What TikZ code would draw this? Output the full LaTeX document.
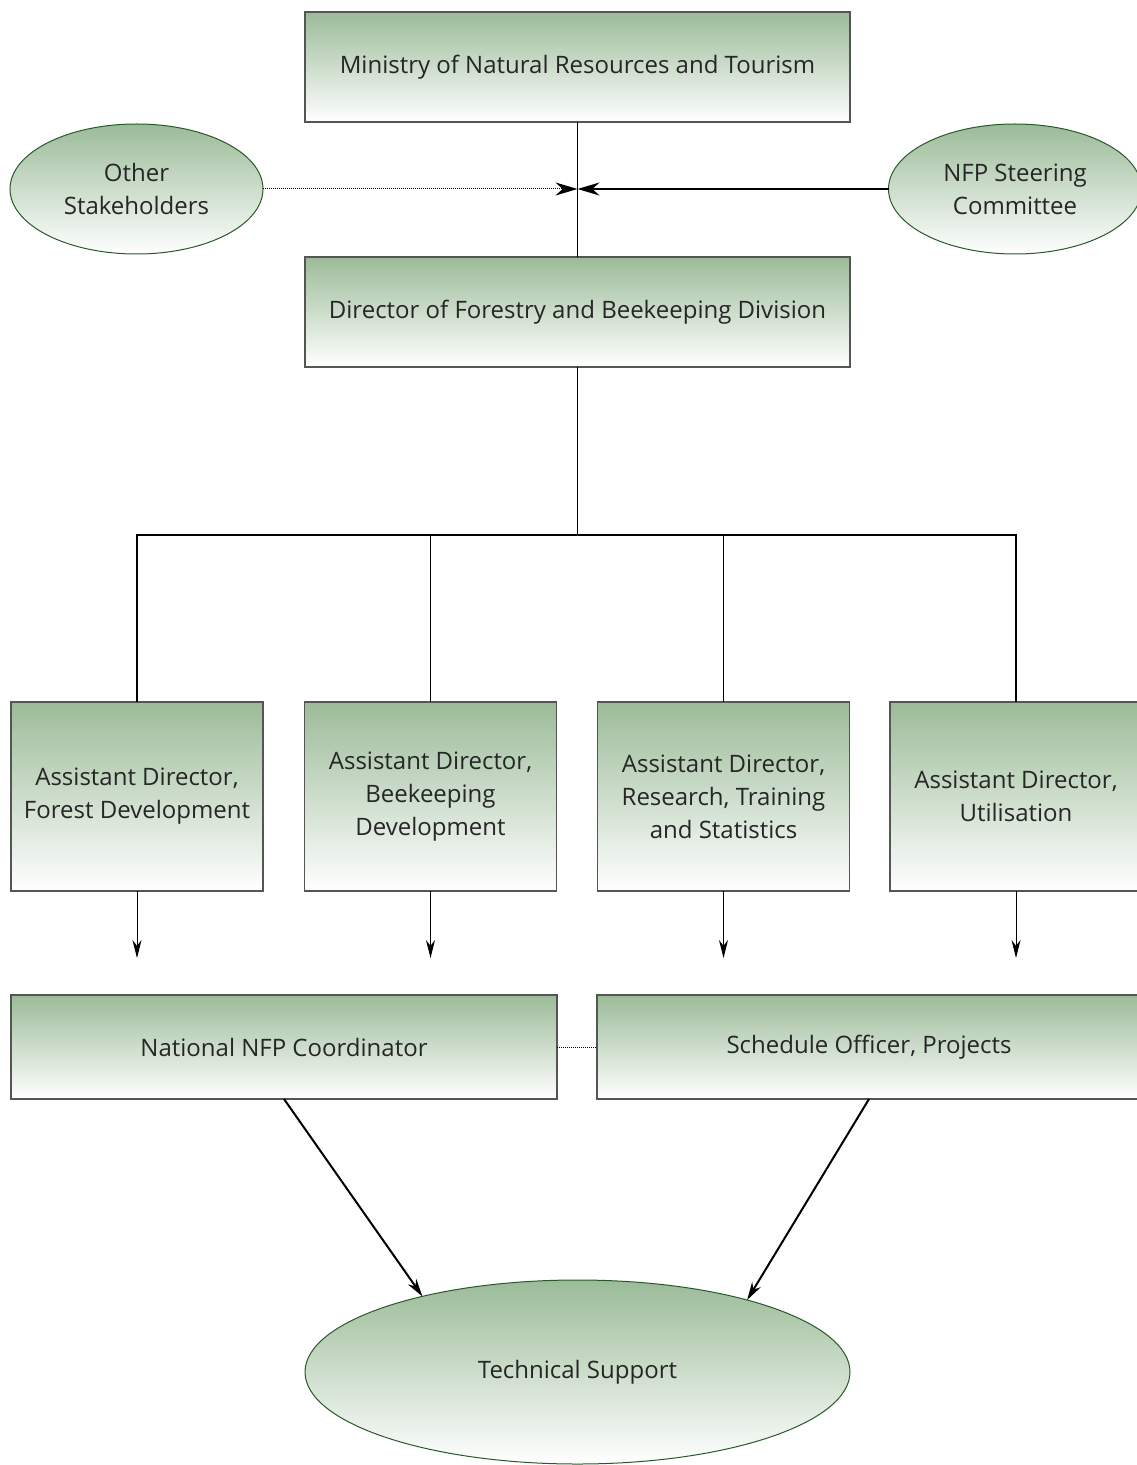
\documentclass[tikz,border=0pt]{standalone}
\usepackage{fontspec}
\setmainfont{Open Sans}
\usetikzlibrary{arrows.meta,shapes.geometric,positioning}
\definecolor{leafgreen}{RGB}{155,187,152}
\definecolor{rimgreen}{RGB}{40,90,40}
\definecolor{rimgray}{RGB}{85,85,85}

\begin{document}
\begin{tikzpicture}[x=0.5pt,y=-0.5pt]
\tikzstyle{every node}+=[inner sep=0pt,outer sep=0pt,align=center,text=black!85,font=\fontsize{12}{16.5}\selectfont]
\tikzstyle{orgbox}=[rectangle,draw=rimgray,line width=0.6pt,top color=leafgreen,bottom color=white]
\tikzstyle{orgoval}=[ellipse,draw=rimgreen,line width=0.5pt,top color=leafgreen,bottom color=white]
\tikzstyle{feed}=[line width=0.5pt,-{Stealth[length=9pt,width=4.5pt]}]
\tikzstyle{finedots}=[dash pattern=on 0.5pt off 0.5pt]
\useasboundingbox (0,0) rectangle (1136,1465);
% top level
\node[orgbox,minimum width=272.5pt,minimum height=55pt] (ministry) at (577.5,67) {Ministry of Natural Resources and Tourism};
\node[orgoval,minimum width=126.5pt,minimum height=65pt] (others) at (136.5,189) {Other\\Stakeholders};
\node[orgoval,minimum width=126.5pt,minimum height=65pt] (steering) at (1015,189) {NFP Steering\\Committee};
\node[orgbox,minimum width=272.5pt,minimum height=55pt] (director) at (577.5,312) {Director of Forestry and Beekeeping Division};
\coordinate (join) at (577.5,189);
\coordinate (hub) at (577.5,535);
\coordinate (tipline) at (0,958);
% assistant directors
\node[orgbox,minimum width=126pt,minimum height=94.5pt] (forest) at (137,796.5) {Assistant Director,\\Forest Development};
\node[orgbox,minimum width=126pt,minimum height=94.5pt] (bees) at (430.5,796.5) {Assistant Director,\\Beekeeping\\Development};
\node[orgbox,minimum width=126pt,minimum height=94.5pt] (research) at (723.5,796.5) {Assistant Director,\\Research, Training\\and Statistics};
\node[orgbox,minimum width=126pt,minimum height=94.5pt] (util) at (1016,796.5) {Assistant Director,\\Utilisation};
% coordination
\node[orgbox,minimum width=273pt,minimum height=52pt] (coord) at (284,1047) {National NFP Coordinator};
\node[orgbox,minimum width=272pt,minimum height=52pt] (sched) at (869,1047) {Schedule Officer, Projects};
\node[orgoval,minimum width=272.5pt,minimum height=92pt] (tech) at (577.5,1372) {Technical Support};
% connectors
\draw[line width=0.5pt] (ministry.south) -- (director.north);
\draw[line width=0.5pt,finedots,-{Stealth[length=11pt,width=6.5pt]}] (others.east) -- (join);
\draw[line width=1pt,-{Stealth[length=11pt,width=6.5pt]}] (steering.west) -- (join);
\draw[line width=0.75pt] (director.south) -- (hub);
\draw[line width=0.75pt] (forest.north) |- (hub) -| (util.north);
\draw[line width=0.75pt] (bees.north) -- (bees.north |- hub);
\draw[line width=0.75pt] (research.north) -- (research.north |- hub);
\foreach \ad in {forest,bees,research,util}
  \draw[feed] (\ad.south) -- (\ad.south |- tipline);
\draw[line width=0.5pt,finedots] (coord.east) -- (sched.west);
\draw[line width=1pt,-{Stealth[length=9pt,width=5pt]}] (coord.south) -- (tech.154);
\draw[line width=1pt,-{Stealth[length=9pt,width=5pt]}] (sched.south) -- (tech.23);
\end{tikzpicture}
\end{document}
